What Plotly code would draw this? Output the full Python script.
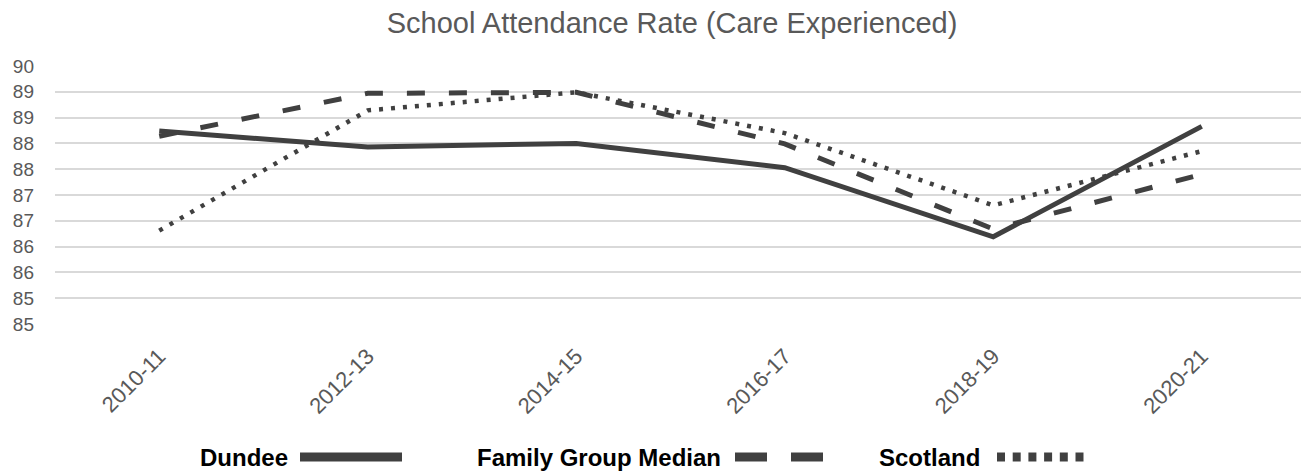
import plotly.graph_objects as go

# ---- data ----
categories = ["2010-11", "2012-13", "2014-15", "2016-17", "2018-19", "2020-21"]
dundee = [88.74, 88.43, 88.50, 88.03, 86.69, 88.83]
family_group_median = [88.64, 89.47, 89.49, 88.49, 86.84, 87.90]
scotland = [86.81, 89.14, 89.49, 88.70, 87.30, 88.35]
y_tickvals = [85.0, 85.5, 86.0, 86.5, 87.0, 87.5, 88.0, 88.5, 89.0, 89.5, 90.0]
y_ticktext = ["85", "85", "86", "86", "87", "87", "88", "88", "89", "89", "90"]
title_text = "School Attendance Rate (Care Experienced)"

LINE = "#404040"
GREY = "#595959"
OFF = 8                      # default page margin of the html body
W, H = 1309 - OFF, 472 - OFF
ML, MR, MT, MB = 55 - OFF, 3, 66 - OFF, 148
PW, PH = W - ML - MR, H - MT - MB

fig = go.Figure()
fig.add_trace(go.Scatter(x=categories, y=dundee, name="Dundee", mode="lines",
                         line=dict(color=LINE, width=5), showlegend=False))
fig.add_trace(go.Scatter(x=categories, y=family_group_median, name="Family Group Median",
                         mode="lines", line=dict(color=LINE, width=5, dash="18px,24px"),
                         showlegend=False))
fig.add_trace(go.Scatter(x=categories, y=scotland, name="Scotland", mode="lines",
                         line=dict(color=LINE, width=4.5, dash="4px,8px"), showlegend=False))


def px_x(p):
    return (p - OFF - ML) / PW


def px_y(p):
    return (H - MB - (p - OFF)) / PH


# ---- custom legend (text followed by swatch, like the original) ----
LEG_Y = 457
annotations = []
shapes = []
legend_items = [
    ("Dundee", 290, [(300, 402)]),
    ("Family Group Median", 723, [(735, 767), (791, 823)]),
    ("Scotland", 982, [(997 + i * 15.7, 1005 + i * 15.7) for i in range(6)]),
]
for label, text_right, segs in legend_items:
    annotations.append(dict(text="<b>%s</b>" % label, x=px_x(text_right), y=px_y(LEG_Y),
                            xref="paper", yref="paper", xanchor="right", yanchor="middle",
                            showarrow=False,
                            font=dict(family="Liberation Sans, Arial", size=24, color="#000000")))
    for a, b in segs:
        shapes.append(dict(type="line", xref="paper", yref="paper",
                           x0=px_x(a), x1=px_x(b), y0=px_y(LEG_Y), y1=px_y(LEG_Y),
                           line=dict(color=LINE, width=9)))

fig.update_layout(
    width=W, height=H,
    margin=dict(l=ML, r=MR, t=MT, b=MB, pad=0, autoexpand=False),
    paper_bgcolor="white", plot_bgcolor="white",
    title=dict(text=title_text, x=(672 - OFF) / W, xanchor="center",
               y=1 - (23 - OFF) / H, yanchor="middle",
               font=dict(family="Liberation Sans, Arial", size=29, color=GREY)),
    showlegend=False,
    annotations=annotations,
    shapes=shapes,
    xaxis=dict(type="category", range=[-0.5, 5.5], showgrid=False, zeroline=False,
               showline=False, ticks="", tickangle=-45, ticklabelstandoff=14,
               automargin=False,
               tickfont=dict(family="Liberation Sans, Arial", size=22, color=GREY)),
    yaxis=dict(range=[85, 90], tickvals=y_tickvals, ticktext=y_ticktext,
               showgrid=True, gridcolor="#d9d9d9", gridwidth=1.5, zeroline=False,
               showline=False, ticks="", ticklabelstandoff=20, automargin=False,
               tickfont=dict(family="Liberation Sans, Arial", size=19, color=GREY)),
)

fig.write_html("out.html")
